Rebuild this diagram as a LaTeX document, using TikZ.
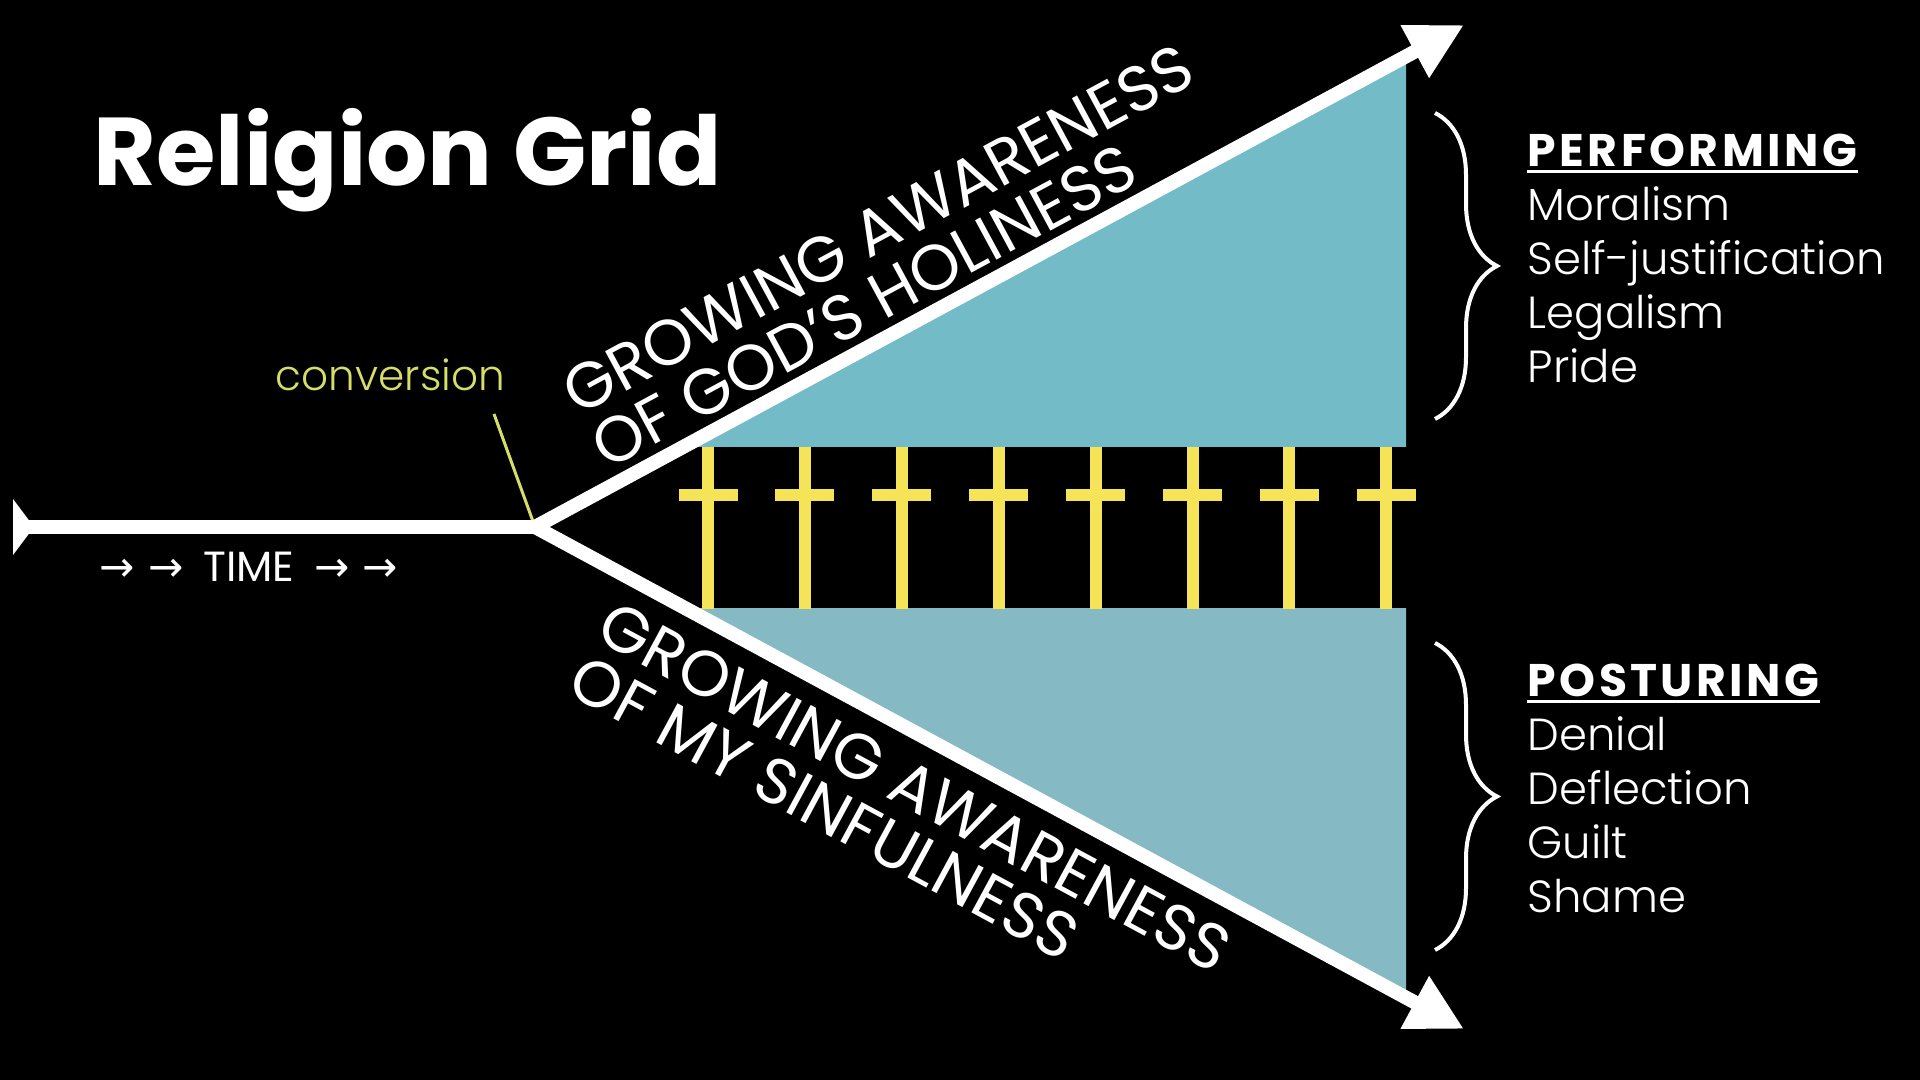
\documentclass[tikz,border=0pt]{standalone}
\usepackage{fontspec}
\setmainfont{Poppins}
\newfontfamily\lightfont{Poppins Light}
\newfontfamily\arrowfont{DejaVu Sans}
\usetikzlibrary{arrows.meta,decorations.pathreplacing}

\definecolor{tealup}{RGB}{115,187,199}
\definecolor{tealdown}{RGB}{133,186,196}
\definecolor{crossyellow}{RGB}{246,228,88}
\definecolor{convyellow}{RGB}{214,222,105}

\tikzset{
    beam/.style={white, line width=1.4mm},
    bigtip/.style={-{Triangle[length=5.6mm, width=5.6mm]}},
    titletext/.style={white, font=\bfseries\fontsize{27.4}{30}\selectfont, inner sep=0},
    diagtext/.style={white, align=left, font=\fontsize{18.3}{17.4}\selectfont, inner sep=0},
    headtext/.style={white, font=\bfseries\fontsize{13}{15}\selectfont\addfontfeatures{LetterSpace=7.5}, inner sep=0, anchor=base west},
    itemtext/.style={white, font=\lightfont\fontsize{12.8}{15}\selectfont, inner sep=0, anchor=base west},
    bracket/.style={white, line width=0.4mm, decorate, decoration={brace, amplitude=6.2mm}}
}

\begin{document}
\begin{tikzpicture}
    % Background
    \path[use as bounding box, fill=black] (0, 0) rectangle (19.2, 10.8);

    % Key points
    \coordinate (T) at (0.13, 5.53);
    \coordinate (J) at (5.35, 5.53);
    \coordinate (U) at (14.64, 10.55);
    \coordinate (L) at (14.64, 0.51);

    % Teal wedges
    \begin{scope}
        \clip (0, 6.33) rectangle (14.06, 10.8);
        \fill[tealup] (J) -- (U) -- (U |- J) -- cycle;
    \end{scope}
    \begin{scope}
        \clip (0, 0) rectangle (14.06, 4.71);
        \fill[tealdown] (J) -- (L) -- (L |- J) -- cycle;
    \end{scope}

    % Crosses
    \foreach \i in {0,...,7} {
        \pgfmathsetmacro{\cx}{7.08 + 0.969*\i}
        \fill[crossyellow] (\cx - 0.06, 4.71) rectangle (\cx + 0.06, 6.33);
        \fill[crossyellow] (\cx - 0.295, 5.79) rectangle (\cx + 0.295, 5.91);
    }

    % Conversion label
    \node[convyellow, font=\lightfont\fontsize{12}{14}\selectfont, inner sep=0] (conv) at (3.905, 7.05) {conversion};
    \coordinate (convfoot) at (4.94, 6.66);
    \draw[convyellow, line width=0.3mm] (convfoot) -- (J);

    % Time line and the two growing lines
    \draw[beam, {Triangle[reversed, length=2.1mm, width=5.5mm]}-] (T) -- (J);
    \draw[beam, bigtip] (J) -- (U);
    \draw[beam, bigtip] (J) -- (L);

    % Time
    \node[white, font=\fontsize{12}{14}\selectfont, inner sep=0, anchor=base west] (time) at (0.99, 4.98)
        {{\arrowfont →}\hspace{1.3mm}{\arrowfont →}\hspace{2mm}TIME\hspace{2mm}{\arrowfont →}\hspace{1.3mm}{\arrowfont →}};

    % Title
    \node[titletext, anchor=base west] (title) at (0.93, 8.94) {Religion Grid};

    % Diagonal labels
    \node[diagtext, rotate=28.39, anchor=south west] (holy) at (6.07, 6.08) {GROWING AWARENESS\\OF GOD’S HOLINESS};
    \node[diagtext, rotate=-28.39, anchor=north west] (sin) at (6.15, 4.82) {GROWING AWARENESS\\OF MY SINFULNESS};

    % Braces
    \draw[bracket] (14.35, 9.67) -- (14.35, 6.61);
    \draw[bracket] (14.35, 4.37) -- (14.35, 1.30);

    % Performing list
    \node[headtext] (perf) at (15.27, 9.13) {PERFORMING};
    \draw[white, line width=0.25mm] ([yshift=-0.45mm]perf.base west) -- ([yshift=-0.45mm]perf.base east);
    \foreach \word [count=\k] in {Moralism, Self-justification, Legalism, Pride}
        \node[itemtext] (perf-\k) at (15.27, {9.13 - 0.54*\k}) {\word};

    % Posturing list
    \node[headtext] (post) at (15.27, 3.83) {POSTURING};
    \draw[white, line width=0.25mm] ([yshift=-0.45mm]post.base west) -- ([yshift=-0.45mm]post.base east);
    \foreach \word [count=\k] in {Denial, Deflection, Guilt, Shame}
        \node[itemtext] (post-\k) at (15.27, {3.83 - 0.54*\k}) {\word};
\end{tikzpicture}
\end{document}
